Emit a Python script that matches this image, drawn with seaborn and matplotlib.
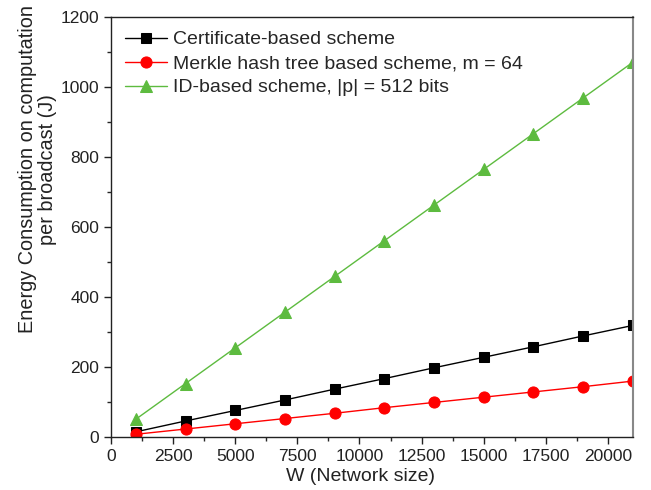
import matplotlib
matplotlib.use("Agg")
import matplotlib.pyplot as plt
from matplotlib.ticker import MultipleLocator
import seaborn as sns
import pandas as pd

network_size = [1000, 3000, 5000, 7000, 9000, 11000, 13000, 15000, 17000, 19000, 21000]
certificate = [15, 46, 76, 106, 137, 167, 198, 228, 258, 289, 319]
merkle = [8, 23, 38, 53, 68, 84, 99, 114, 129, 144, 160]
id_based = [51, 153, 255, 357, 459, 561, 663, 765, 867, 969, 1071]

series_names = [
    "Certificate-based scheme",
    "Merkle hash tree based scheme, m = 64",
    "ID-based scheme, |p| = 512 bits",
]

df = pd.DataFrame({
    "W": network_size * 3,
    "E": certificate + merkle + id_based,
    "scheme": [series_names[0]] * 11 + [series_names[1]] * 11 + [series_names[2]] * 11,
})

sns.set_style("ticks")
plt.rcParams["font.family"] = ["Liberation Sans", "DejaVu Sans"]

fig = plt.figure(figsize=(6.51, 4.9), dpi=100)
ax = fig.add_axes([0.1705, 0.108, 0.8015, 0.857])

palette = {series_names[0]: "#000000", series_names[1]: "#ff0000", series_names[2]: "#5dbb3f"}
markers = {series_names[0]: "s", series_names[1]: "o", series_names[2]: "^"}
sizes = {series_names[0]: 7, series_names[1]: 8, series_names[2]: 9}

for name in series_names:
    sub = df[df["scheme"] == name]
    sns.lineplot(data=sub, x="W", y="E", ax=ax, color=palette[name], marker=markers[name],
                 markersize=sizes[name], markeredgecolor=palette[name], linewidth=1,
                 label=name, legend=False)

ax.set_xlim(0, 21000)
ax.set_ylim(0, 1200)
ax.xaxis.set_major_locator(MultipleLocator(2500))
ax.xaxis.set_minor_locator(MultipleLocator(1250))
ax.yaxis.set_major_locator(MultipleLocator(200))
ax.yaxis.set_minor_locator(MultipleLocator(100))
ax.tick_params(axis="both", which="major", direction="out", length=5, width=1, labelsize=12.5, colors="#222222")
ax.tick_params(axis="both", which="minor", direction="out", length=3, width=1)

for side in ["left", "bottom", "top"]:
    ax.spines[side].set_color("#222222")
    ax.spines[side].set_linewidth(1)
ax.spines["right"].set_color("#888888")
ax.spines["right"].set_linewidth(1.5)

ax.set_xlabel("W (Network size)", fontsize=14, color="#222222")
ax.xaxis.set_label_coords(0.478, -0.073)
ax.set_ylabel("Energy Consumption on computation\nper broadcast (J)", fontsize=14.3,
              color="#222222", linespacing=1.1)
ax.yaxis.label.set_multialignment("center")
ax.yaxis.set_label_coords(-0.103, 0.638)

ax.legend(loc="upper left", frameon=False, fontsize=14, handlelength=2.2,
          handletextpad=0.3, borderaxespad=0.3, labelspacing=0.33)

fig.savefig("out.png", dpi=100)
